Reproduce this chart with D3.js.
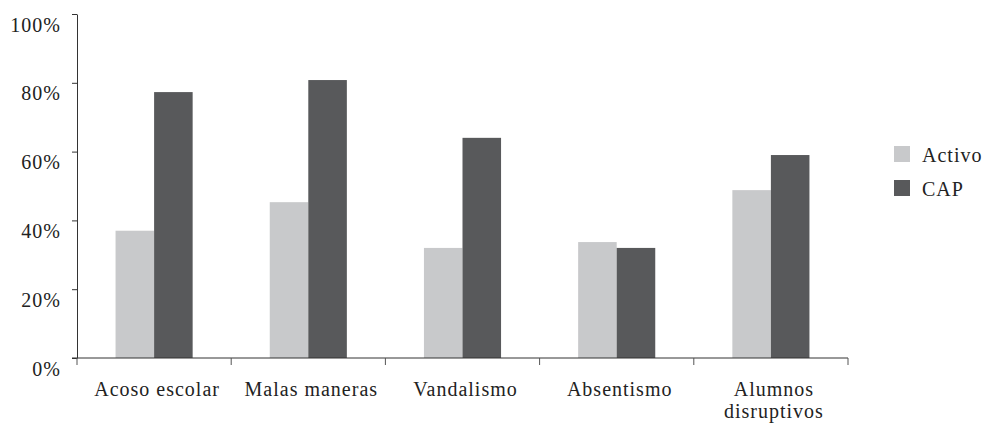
<!DOCTYPE html>
<html lang="es">
<head>
<meta charset="UTF-8" />
<title>Activo vs CAP</title>
<script src="https://cdn.jsdelivr.net/npm/d3@7"></script>
<style>
  body { margin: 0; background: #fff; }
  text { font-family: "Liberation Serif", "DejaVu Serif", serif; fill: #222; letter-spacing: 1px; }
</style>
</head>
<body>
<svg id="chart" width="984" height="423"></svg>
<script>
// data
var categories = ["Acoso escolar", "Malas maneras", "Vandalismo", "Absentismo", "Alumnos disruptivos"];
var series = ["Activo", "CAP"];
var activo = [0.37, 0.453, 0.32, 0.337, 0.488];
var cap = [0.773, 0.808, 0.64, 0.32, 0.59];
var yTicks = [0, 0.2, 0.4, 0.6, 0.8, 1];
var colors = ["#c8c9cb", "#58595b"];

var svg = d3.select("#chart");
var mLeft = 77, mRight = 848, mTop = 14, mBottom = 358;

var x0 = d3.scaleBand().domain(categories).range([mLeft, mRight]).padding(0);
var x1 = d3.scaleBand().domain(series).range([0, x0.bandwidth()]).paddingInner(0).paddingOuter(1);
var y = d3.scaleLinear().domain([0, 1]).range([mBottom, mTop]);
var color = d3.scaleOrdinal().domain(series).range(colors);

var rows = categories.map(function(c, i){ return {cat: c, values: [activo[i], cap[i]]}; });

// bars
svg.append("g")
  .selectAll("g")
  .data(rows)
  .enter().append("g")
    .attr("transform", function(d){ return "translate(" + x0(d.cat) + ",0)"; })
  .selectAll("rect")
  .data(function(d){ return series.map(function(s, j){ return {key: s, value: d.values[j]}; }); })
  .enter().append("rect")
    .attr("x", function(d){ return x1(d.key); })
    .attr("width", x1.bandwidth())
    .attr("y", function(d){ return y(d.value); })
    .attr("height", function(d){ return mBottom - y(d.value); })
    .attr("fill", function(d){ return color(d.key); });

// y axis
var yAxis = svg.append("g")
  .attr("transform", "translate(" + mLeft + ",0)")
  .call(d3.axisLeft(y).tickValues(yTicks).tickFormat(d3.format(".0%")).tickSizeInner(5).tickSizeOuter(0).tickPadding(11));
yAxis.selectAll("text").attr("dy", "0.85em").style("font-size", "20px").style("font-family", null);
yAxis.selectAll("line, path").attr("stroke", "#333");

// x axis: line + ticks on band edges
var xAxis = svg.append("g").attr("transform", "translate(0," + mBottom + ")");
xAxis.append("line").attr("x1", mLeft - 5).attr("x2", mRight).attr("stroke", "#333");
var edges = categories.map(function(c){ return x0(c); }).concat([x0.range()[1]]);
xAxis.selectAll(".edge").data(edges).enter().append("line")
  .attr("class", "edge")
  .attr("x1", function(d){ return d; }).attr("x2", function(d){ return d; })
  .attr("y1", 0).attr("y2", 7)
  .attr("stroke", "#555");

var labels = xAxis.selectAll(".cat").data(categories).enter().append("text")
  .attr("class", "cat")
  .attr("x", function(d){ return x0(d) + x0.bandwidth() / 2 + 3; })
  .attr("y", 38)
  .attr("text-anchor", "middle")
  .style("font-size", "20px");
labels.each(function(d){
  var t = d3.select(this);
  var words = d === "Alumnos disruptivos" ? ["Alumnos", "disruptivos"] : [d];
  words.forEach(function(w, i){
    t.append("tspan").attr("x", t.attr("x")).attr("dy", i ? 22 : 0).text(w);
  });
});

// legend
var legend = svg.append("g").attr("transform", "translate(894,146)");
series.forEach(function(s, i){
  var g = legend.append("g").attr("transform", "translate(0," + i * 34 + ")");
  g.append("rect").attr("width", 16).attr("height", 16).attr("fill", color(s));
  g.append("text").attr("x", 28).attr("y", 16).style("font-size", "20px").text(s);
});
</script>
</body>
</html>
